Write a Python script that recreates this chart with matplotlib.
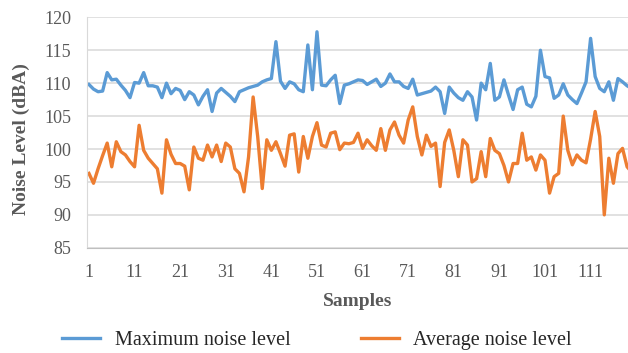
import numpy as np
import matplotlib
matplotlib.use("Agg")
import matplotlib.pyplot as plt

# noise readings per sample
max_noise = [109.8, 109.1, 108.7, 108.8, 111.6, 110.5, 110.6, 109.7, 108.9, 107.8,
             110.1, 110.0, 111.6, 109.6, 109.6, 109.4, 107.8, 110.0, 108.4, 109.2,
             108.9, 107.5, 108.7, 108.2, 106.7, 108.0, 109.0, 105.7, 108.5, 109.2,
             108.6, 108.0, 107.2, 108.7, 109.0, 109.3, 109.5, 109.7, 110.2, 110.5,
             110.7, 116.3, 110.3, 109.2, 110.2, 109.9, 109.0, 108.7, 115.8, 109.0,
             117.8, 109.7, 109.6, 110.5, 111.2, 106.9, 109.7, 109.9, 110.2, 110.5,
             110.4, 109.8, 110.2, 110.6, 109.5, 110.0, 111.4, 110.2, 110.2, 109.5,
             109.2, 110.6, 108.2, 108.4, 108.6, 108.8, 109.4, 108.7, 105.4, 109.4,
             108.5, 107.8, 107.4, 108.7, 107.9, 104.4, 110.0, 109.0, 113.0, 107.4,
             107.9, 110.5, 108.2, 106.0, 109.0, 109.4, 106.8, 106.4, 108.0, 115.0,
             111.0, 110.8, 107.7, 108.2, 109.9, 108.2, 107.5, 106.9, 108.5, 110.2,
             116.8, 111.0, 109.2, 108.7, 110.2, 107.4, 110.7, 110.2, 109.6, 109.2]
avg_noise = [96.3, 94.8, 97.0, 99.0, 100.9, 97.3, 101.1, 99.6, 99.1, 98.1,
             97.3, 103.6, 99.8, 98.6, 97.8, 97.0, 93.3, 101.4, 99.2, 97.8,
             97.8, 97.4, 93.8, 100.3, 98.6, 98.3, 100.6, 98.8, 100.6, 98.1,
             100.9, 100.3, 97.0, 96.3, 93.5, 98.8, 107.9, 101.9, 94.0, 101.4,
             99.8, 101.1, 99.3, 97.4, 102.1, 102.3, 96.5, 101.9, 98.6, 101.9,
             104.0, 100.6, 100.3, 102.4, 102.6, 99.9, 100.9, 100.8, 101.0, 102.4,
             100.1, 101.4, 100.5, 99.8, 103.1, 99.8, 102.9, 104.1, 102.1, 100.9,
             104.4, 106.4, 101.9, 99.1, 102.1, 100.4, 100.9, 94.3, 101.0, 102.9,
             99.8, 95.8, 101.4, 100.6, 95.0, 95.5, 99.6, 95.8, 101.6, 99.8,
             99.3, 97.5, 95.0, 97.8, 97.8, 102.4, 98.3, 98.8, 96.8, 99.1,
             98.3, 93.3, 95.8, 96.3, 105.0, 99.8, 97.6, 99.1, 98.3, 97.9,
             101.5, 105.7, 101.9, 90.0, 98.6, 94.8, 99.3, 100.1, 97.3, 96.5]
samples = np.arange(1, len(max_noise) + 1)
xticks = list(range(1, 112, 10))
yticks = list(range(85, 121, 5))

plt.rcParams['font.family'] = ['Liberation Serif', 'DejaVu Serif']
grey = "#595959"

fig = plt.figure(figsize=(6.28, 3.53), dpi=100)
ax = fig.add_axes([0.138, 0.298, 0.862, 0.653])

ax.plot(samples, max_noise, color="#5B9BD5", lw=2.4, label="Maximum noise level")
ax.plot(samples, avg_noise, color="#ED7D31", lw=2.4, label="Average noise level")

ax.set_xlim(0.5, 119.2)
ax.set_ylim(85, 120)
ax.set_xticks(xticks)
ax.set_yticks(yticks)
ax.tick_params(axis='both', length=0, labelsize=13, labelcolor=grey)
ax.tick_params(axis='x', pad=12)
ax.tick_params(axis='y', pad=11)
ax.yaxis.grid(True, color="#d9d9d9", lw=1.1)
ax.set_axisbelow(True)
for s in ["top", "right"]:
    ax.spines[s].set_visible(False)
ax.spines["left"].set_color("#d9d9d9")
ax.spines["bottom"].set_color("#bfbfbf")

ax.set_xlabel("Samples", fontsize=14, fontweight="bold", color=grey, labelpad=8)
ax.set_ylabel("Noise Level (dBA)", fontsize=14, fontweight="bold", color=grey)
ax.yaxis.set_label_coords(-0.105, 0.47)

fig.legend(loc="center left", bbox_to_anchor=(0.099, 0.036), ncol=2, frameon=False,
           fontsize=14.5, handlelength=1.9, handletextpad=0.7, columnspacing=3.5,
           borderpad=0, borderaxespad=0, labelcolor="#262626")

fig.savefig("out.png", dpi=100)
